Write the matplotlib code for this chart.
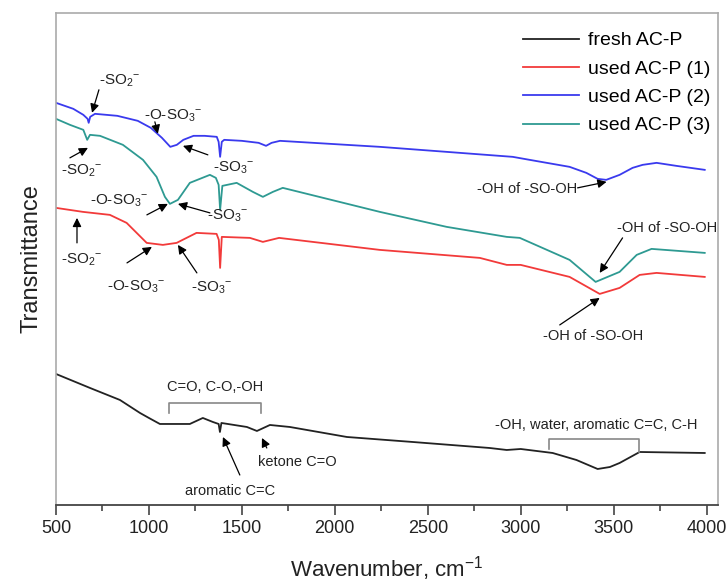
import matplotlib
matplotlib.use("Agg")
import matplotlib.pyplot as plt
from matplotlib.ticker import MultipleLocator

plt.rcParams['font.family'] = ['Liberation Sans', 'DejaVu Sans']
plt.rcParams['mathtext.fontset'] = 'custom'
plt.rcParams['mathtext.rm'] = 'Liberation Sans'
plt.rcParams['mathtext.it'] = 'Liberation Sans'

# spectra (wavenumber in cm-1, transmittance in a.u.)
fresh_wn = [500, 683, 844, 952, 1000, 1059, 1120, 1220, 1290, 1344, 1375, 1382, 1390,
            1527, 1581, 1651, 1758, 2065, 2419, 2833, 2925, 3000, 3172, 3300, 3414,
            3480, 3532, 3640, 3990]
fresh_t = [131, 117, 105, 92, 87, 81, 81, 81, 87, 83, 81, 73, 82,
           78, 74, 80, 78, 68, 63, 57, 55, 56, 52, 45, 36,
           38, 42, 53, 52]

used1_wn = [500, 645, 790, 880, 988, 1075, 1149, 1256, 1364, 1376, 1383, 1392, 1543,
            1613, 1700, 2242, 2780, 2925, 3000, 3263, 3425, 3532, 3640, 3731, 3990]
used1_t = [297, 293, 290, 282, 262, 260, 262, 272, 271, 265, 237, 268, 267,
           263, 267, 255, 247, 240, 240, 228, 211, 217, 230, 232, 228]

used2_wn = [500, 593, 647, 670, 676, 684, 710, 830, 940, 1010, 1070, 1115, 1150, 1185,
            1240, 1300, 1365, 1375, 1383, 1392, 1405, 1500, 1590, 1630, 1660, 1705,
            2242, 2600, 2957, 3048, 3263, 3353, 3414, 3460, 3532, 3602, 3656, 3731,
            3837, 3990]
used2_t = [402, 396, 390, 386, 382, 388, 391, 389, 384, 377, 367, 358, 360, 365,
           369, 369, 368, 363, 348, 363, 365, 364, 362, 359, 362, 364,
           358, 353, 348, 345, 338, 332, 326, 325, 330, 337, 340, 342,
           339, 335]

used3_wn = [500, 575, 647, 668, 683, 737, 860, 968, 1041, 1086, 1113, 1156, 1220, 1328,
            1360, 1375, 1383, 1395, 1472, 1559, 1613, 1667, 1720, 2242, 2602, 2925,
            2995, 3263, 3403, 3532, 3624, 3704, 3990]
used3_t = [386, 380, 375, 365, 370, 369, 360, 345, 328, 308, 301, 305, 322, 330,
           327, 320, 295, 319, 322, 313, 308, 313, 317, 293, 278, 268,
           267, 245, 223, 233, 250, 256, 252]

labels = ['fresh AC-P', 'used AC-P (1)', 'used AC-P (2)', 'used AC-P (3)']
colors = ['#222222', '#f23a3a', '#3a3aee', '#2e9a92']

fig = plt.figure(figsize=(7.28, 5.86), dpi=100)
ax = fig.add_axes([0.0769, 0.1382, 0.909, 0.84])

series = [(fresh_wn, fresh_t), (used1_wn, used1_t), (used2_wn, used2_t), (used3_wn, used3_t)]
for (wn, t), lab, c in zip(series, labels, colors):
    ax.plot(wn, t, color=c, lw=1.3, label=lab)

ax.set_xlim(500, 4060)
ax.set_ylim(0, 492)
ax.xaxis.set_major_locator(MultipleLocator(500))
ax.xaxis.set_minor_locator(MultipleLocator(250))
ax.set_yticks([])
ax.tick_params(axis='x', which='major', direction='out', length=7, width=1.2,
               colors='#444444', labelcolor='#222222', labelsize=13, pad=4)
ax.tick_params(axis='x', which='minor', direction='out', length=4, width=1.2, colors='#444444')
for side in ['left', 'top', 'right']:
    ax.spines[side].set_color('#aaaaaa')
    ax.spines[side].set_linewidth(1.2)
ax.spines['bottom'].set_color('#444444')
ax.spines['bottom'].set_linewidth(1.3)

ax.set_xlabel('Wavenumber, cm$^{-1}$', fontsize=16, color='#222222', labelpad=12)
ax.set_ylabel('Transmittance', fontsize=17, color='#222222', labelpad=10)

leg = ax.legend(loc='upper right', bbox_to_anchor=(1.006, 0.985), frameon=False,
                fontsize=14, handlelength=2.9, handletextpad=0.45, labelspacing=0.55,
                borderaxespad=0.2)

arrow = dict(arrowstyle='-|>', color='black', lw=0.9, mutation_scale=13,
             shrinkA=0, shrinkB=0)

def note(txt, text_xy, tail, tip, size=11):
    ax.text(text_xy[0], text_xy[1], txt, ha='center', va='center', fontsize=size,
            color='#222222')
    ax.annotate('', xy=tip, xytext=tail, arrowprops=arrow)

so2 = r'-SO$_2{}^{-}$'
oso3 = r'-O-SO$_3{}^{-}$'
so3 = r'-SO$_3{}^{-}$'
ohso = '-OH of -SO-OH'

# used AC-P (2)
note(so2, (845, 424), (731, 415), (694, 392))
note(oso3, (1130, 389), (1032, 383), (1048, 371))
note(so3, (1458, 337), (1317, 350), (1183, 359))
# used AC-P (3)
note(so2, (640, 334), (575, 347), (672, 357))
note(oso3, (840, 304), (989, 290), (1102, 301))
note(so3, (1425, 289), (1328, 292), (1156, 301))
# used AC-P (1)
note(so2, (640, 245), (613, 262), (613, 287))
note(oso3, (930, 218), (882, 242), (1016, 258))
note(so3, (1335, 217), (1258, 232), (1156, 260))
# -OH of -SO-OH
note(ohso, (3032, 316), (3306, 317), (3462, 323), size=10.5)
note(ohso, (3790, 277), (3548, 267), (3425, 232), size=10.5)
note(ohso, (3392, 169), (3210, 180), (3425, 207), size=10.5)
# fresh AC-P
note('ketone C=O', (1796, 43), (1634, 57), (1608, 67), size=10.5)
note('aromatic C=C', (1435, 14), (1489, 30), (1398, 68), size=10.5)

bracket = dict(color='#888888', lw=1.2)
ax.plot([1108, 1108, 1602, 1602], [92, 102, 102, 92], **bracket)
ax.text(1355, 118, 'C=O, C-O,-OH', ha='center', va='center', fontsize=10.5, color='#222222')
ax.plot([3150, 3150, 3634, 3634], [56, 66, 66, 53], **bracket)
ax.text(3409, 80, '-OH, water, aromatic C=C, C-H', ha='center', va='center',
        fontsize=10.5, color='#222222')

fig.savefig('out.png', dpi=100)
